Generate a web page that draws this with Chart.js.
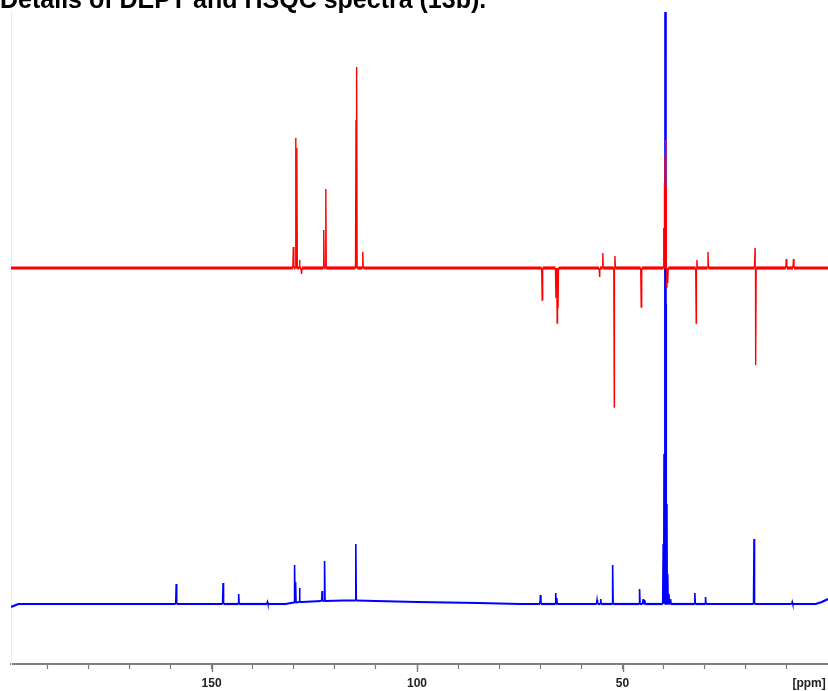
<!DOCTYPE html>
<html>
<head>
<meta charset="utf-8">
<script src="https://cdn.jsdelivr.net/npm/chart.js@4.4.0/dist/chart.umd.min.js"></script>
<style>
  html, body { margin: 0; padding: 0; background: #fff; overflow: hidden; }
  #wrap { position: relative; width: 828px; height: 691px; }
  #titulo {
    position: absolute; left: 0; top: -13px; z-index: 2;
    font: bold 25px/25px "Liberation Sans", Arial, sans-serif;
    color: #000; white-space: nowrap;
  }
  canvas { position: absolute; left: 0; top: 0; }
</style>
</head>
<body>
<div id="wrap">
  <div id="titulo">Details of DEPT and HSQC spectra (13b).</div>
  <canvas id="espectro" width="828" height="691"></canvas>
</div>
<script>
// Eixo de deslocamento químico (ppm), invertido como em RMN
const ppmMax = 198.8;
const ppmMin = 0;
const ticksMenores = [190, 180, 170, 160, 150, 140, 130, 120, 110, 100, 90, 80, 70, 60, 50, 40, 30, 20, 10];
const ticksRotulados = [150, 100, 50];
const posRotuloPpm = 4.6;

// DEPT (vermelho): linha de base plana, picos positivos (CH/CH3) e negativos (CH2)
const deptBasePpm = [198.8, 0];
const deptBaseNivel = [0, 0];
const deptPicoPpm = [130.1, 129.5, 129.25, 128.6, 128.1, 122.7, 122.2, 114.85, 114.7, 113.2,
  69.55, 66.2, 65.9, 65.7, 55.6, 54.8, 52.0, 51.85, 45.45,
  40.0, 39.8, 39.65, 39.5, 39.35, 39.2, 39.0,
  32.07, 31.9, 29.2, 17.75, 17.6, 10.15, 8.4];
const deptPicoAltura = [21, 130, 120, 8, -6, 38, 79, 148, 201, 16,
  -32, -30, -55, -40, -9, 15, -139, 12, -39,
  40, 85, 113, 128, 80, -20, -15,
  -55, 8, 16, 20, -97, 9, 9];

// HSQC / 13C (azul): linha de base com leve ondulação
const hsqcBasePpm = [198.8, 197, 132, 128, 118, 110, 100, 85, 75, 3, 1.5, 0];
const hsqcBaseNivel = [-3, 0, 0, 2, 3.5, 3, 2, 1, 0, 0, 2, 5];
const hsqcPicoPpm = [158.6, 147.2, 143.4, 136.4, 129.8, 129.55, 128.6, 123.1, 122.5, 114.9,
  69.97, 66.25, 66.0, 56.2, 55.3, 52.4, 45.85, 45.0, 44.6,
  40.1, 39.9, 39.7, 39.62, 39.55, 39.48, 39.4, 39.2, 39.0, 38.7, 38.3,
  32.4, 29.8, 18.0, 8.7];
const hsqcPicoAltura = [20, 21, 10, 2, 39, 22, 16, 13, 43, 60,
  9, 11, 6, 4, 5, 39, 15, 5, 4,
  60, 150, 400, 900, 900, 900, 300, 100, 30, 10, 5,
  11, 7, 65, 2];
const hsqcPicoBase = [0, 0, 0, 0, 1.5, 1.5, 2, 3, 3, 3.5,
  0, 0, 0, 0, 0, 0, 0, 0, 0,
  0, 0, 0, 0, 0, 0, 0, 0, 0, 0, 0,
  0, 0, 0, 0];

// Deslocamento vertical de cada espectro no gráfico
const offsetDept = 396;
const offsetHsqc = 60;

// Monta os pontos do espectro (linha de base + picos estreitos)
function montarEspectro(basePpm, baseNivel, picoPpm, picoAltura, picoBase, offset) {
    const pts = basePpm.map((p, i) => ({ x: p, y: offset + baseNivel[i], base: true }));
    picoPpm.forEach((p, i) => {
        const b = offset + (picoBase ? picoBase[i] : 0);
        pts.push({ x: p + 0.12, y: b, base: true });
        pts.push({ x: p, y: offset + picoAltura[i], base: false });
        pts.push({ x: p - 0.12, y: b, base: true });
    });
    pts.sort((a, b) => b.x - a.x);
    return pts;
}

const dadosDept = montarEspectro(deptBasePpm, deptBaseNivel, deptPicoPpm, deptPicoAltura, null, offsetDept);
const dadosHsqc = montarEspectro(hsqcBasePpm, hsqcBaseNivel, hsqcPicoPpm, hsqcPicoAltura, hsqcPicoBase, offsetHsqc);

function larguraSegmento(dados, grossa, fina) {
    return ctx => (dados[ctx.p0DataIndex].base && dados[ctx.p1DataIndex].base) ? grossa : fina;
}

// Ticks maiores nos valores rotulados (150, 100, 50)
const ticksMaiores = {
    id: 'ticksMaiores',
    afterDraw(chart) {
        const escala = chart.scales.x;
        const c = chart.ctx;
        c.save();
        c.strokeStyle = '#7a7a7a';
        c.lineWidth = 1.4;
        ticksRotulados.forEach(v => {
            const px = Math.round(escala.getPixelForValue(v)) + 0.5;
            c.beginPath();
            c.moveTo(px, escala.top);
            c.lineTo(px, escala.top + 8);
            c.stroke();
        });
        c.restore();
    }
};

const ctx = document.getElementById('espectro').getContext('2d');
new Chart(ctx, {
    type: 'line',
    data: {
        datasets: [
            {
                label: 'DEPT',
                data: dadosDept,
                borderColor: '#ff0000',
                borderWidth: 1.4,
                pointRadius: 0,
                tension: 0,
                fill: false,
                segment: { borderWidth: larguraSegmento(dadosDept, 3.2, 1.4) }
            },
            {
                label: 'HSQC',
                data: dadosHsqc,
                borderColor: '#0000ff',
                borderWidth: 1.6,
                pointRadius: 0,
                tension: 0,
                fill: false,
                segment: { borderWidth: larguraSegmento(dadosHsqc, 2.2, 1.6) }
            }
        ]
    },
    plugins: [ticksMaiores],
    options: {
        responsive: false,
        animation: false,
        devicePixelRatio: 1,
        layout: { padding: { left: 11, right: 0, top: 12, bottom: 0 } },
        plugins: {
            legend: { display: false },
            tooltip: { enabled: false },
            title: { display: false }
        },
        scales: {
            x: {
                type: 'linear',
                reverse: true,
                min: ppmMin,
                max: ppmMax,
                afterBuildTicks: scale => {
                    scale.ticks = ticksMenores.map(v => ({ value: v })).concat([{ value: posRotuloPpm }]);
                },
                afterFit: scale => {
                    // altura fixa do eixo e sem folga lateral para o rótulo [ppm]
                    scale.height = 27;
                    scale.paddingLeft = 0;
                    scale.paddingRight = 0;
                },
                grid: {
                    display: true,
                    drawOnChartArea: false,
                    drawTicks: true,
                    tickLength: 5,
                    tickColor: c => (c.tick && c.tick.value === posRotuloPpm) ? 'rgba(0,0,0,0)' : '#7a7a7a',
                    tickWidth: 1.2
                },
                border: { display: true, color: '#808080', width: 2 },
                ticks: {
                    autoSkip: false,
                    maxRotation: 0,
                    padding: 7,
                    color: '#222',
                    font: { family: 'Liberation Sans', size: 12, weight: 'bold' },
                    callback: v => {
                        if (v === posRotuloPpm) return '[ppm]';
                        return ticksRotulados.includes(v) ? String(v) : '';
                    }
                }
            },
            y: {
                type: 'linear',
                min: 0,
                max: 652,
                display: true,
                grid: { display: false, drawTicks: false },
                border: { display: true, color: '#ececec', width: 1 },
                ticks: { display: false }
            }
        }
    }
});
</script>
</body>
</html>
